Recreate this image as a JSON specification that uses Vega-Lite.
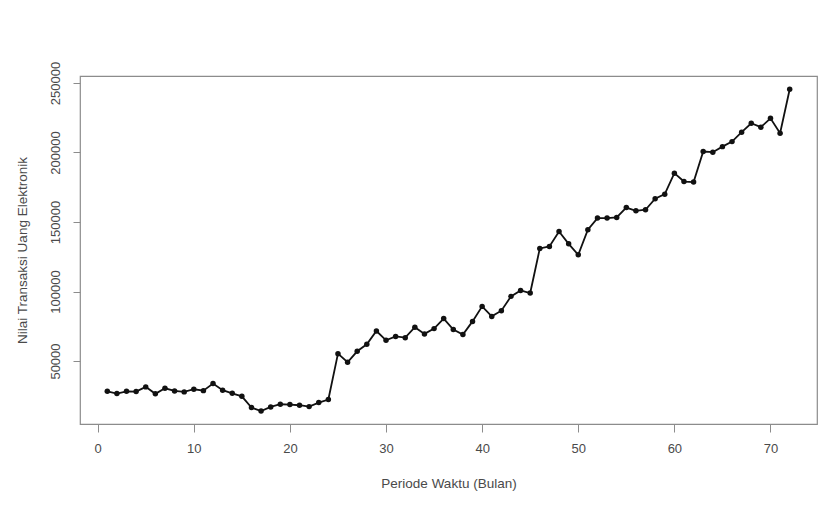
{
  "$schema": "https://vega.github.io/schema/vega-lite/v6.json",
  "width": 737,
  "height": 348,
  "autosize": {"type": "none"},
  "padding": {"left": 80, "top": 76, "right": 23, "bottom": 82},
  "background": "white",
  "config": {
    "view": {"stroke": "#8c8c8c", "strokeWidth": 1.2},
    "font": "Liberation Sans"
  },
  "data": {
    "values": [
      {"periode": 1, "nilai": 28200}, {"periode": 2, "nilai": 26600}, {"periode": 3, "nilai": 28200},
      {"periode": 4, "nilai": 28000}, {"periode": 5, "nilai": 31400}, {"periode": 6, "nilai": 26400},
      {"periode": 7, "nilai": 30400}, {"periode": 8, "nilai": 28500}, {"periode": 9, "nilai": 27800},
      {"periode": 10, "nilai": 29700}, {"periode": 11, "nilai": 28700}, {"periode": 12, "nilai": 33800},
      {"periode": 13, "nilai": 29000}, {"periode": 14, "nilai": 26800}, {"periode": 15, "nilai": 24600},
      {"periode": 16, "nilai": 16500}, {"periode": 17, "nilai": 14000}, {"periode": 18, "nilai": 17000},
      {"periode": 19, "nilai": 18900}, {"periode": 20, "nilai": 18700}, {"periode": 21, "nilai": 18200},
      {"periode": 22, "nilai": 17200}, {"periode": 23, "nilai": 20100}, {"periode": 24, "nilai": 22300},
      {"periode": 25, "nilai": 55300}, {"periode": 26, "nilai": 49100}, {"periode": 27, "nilai": 57000},
      {"periode": 28, "nilai": 62000}, {"periode": 29, "nilai": 71600}, {"periode": 30, "nilai": 64900},
      {"periode": 31, "nilai": 67700}, {"periode": 32, "nilai": 66800}, {"periode": 33, "nilai": 74300},
      {"periode": 34, "nilai": 69500}, {"periode": 35, "nilai": 73300}, {"periode": 36, "nilai": 80500},
      {"periode": 37, "nilai": 72600}, {"periode": 38, "nilai": 69000}, {"periode": 39, "nilai": 78500},
      {"periode": 40, "nilai": 89300}, {"periode": 41, "nilai": 82100}, {"periode": 42, "nilai": 86200},
      {"periode": 43, "nilai": 96500}, {"periode": 44, "nilai": 100800}, {"periode": 45, "nilai": 98900},
      {"periode": 46, "nilai": 131000}, {"periode": 47, "nilai": 132400}, {"periode": 48, "nilai": 143200},
      {"periode": 49, "nilai": 134300}, {"periode": 50, "nilai": 126400}, {"periode": 51, "nilai": 144400},
      {"periode": 52, "nilai": 152800}, {"periode": 53, "nilai": 152800}, {"periode": 54, "nilai": 153300},
      {"periode": 55, "nilai": 160400}, {"periode": 56, "nilai": 158000}, {"periode": 57, "nilai": 158800},
      {"periode": 58, "nilai": 166700}, {"periode": 59, "nilai": 170000}, {"periode": 60, "nilai": 185100},
      {"periode": 61, "nilai": 179100}, {"periode": 62, "nilai": 178700}, {"periode": 63, "nilai": 200700},
      {"periode": 64, "nilai": 200200}, {"periode": 65, "nilai": 204200}, {"periode": 66, "nilai": 207800},
      {"periode": 67, "nilai": 214600}, {"periode": 68, "nilai": 221000}, {"periode": 69, "nilai": 218200},
      {"periode": 70, "nilai": 224600}, {"periode": 71, "nilai": 213900}, {"periode": 72, "nilai": 245500}
    ]
  },
  "encoding": {
    "x": {
      "field": "periode",
      "type": "quantitative",
      "scale": {"domain": [-1.84, 74.84], "nice": false, "zero": false},
      "axis": {
        "values": [0, 10, 20, 30, 40, 50, 60, 70],
        "grid": false,
        "domain": false,
        "tickSize": 8,
        "tickColor": "#8c8c8c",
        "labelFont": "Liberation Sans",
        "labelFontSize": 13,
        "labelColor": "#4a4a4a",
        "labelPadding": 16,
        "labelBaseline": "middle",
        "labelFlush": false,
        "labelOverlap": false,
        "title": "Periode Waktu (Bulan)",
        "titleFont": "Liberation Sans",
        "titleFontSize": 13.5,
        "titleFontWeight": "normal",
        "titleColor": "#4a4a4a",
        "titleX": 368.5,
        "titleY": 59,
        "titleAlign": "center",
        "titleBaseline": "middle"
      }
    },
    "y": {
      "field": "nilai",
      "type": "quantitative",
      "scale": {"domain": [4700, 255000], "nice": false, "zero": false},
      "axis": {
        "values": [50000, 100000, 150000, 200000, 250000],
        "format": "d",
        "grid": false,
        "domain": false,
        "tickSize": 7,
        "tickColor": "#8c8c8c",
        "labelFont": "Liberation Sans",
        "labelFontSize": 13,
        "labelColor": "#4a4a4a",
        "labelAngle": -90,
        "labelAlign": "center",
        "labelBaseline": "middle",
        "labelPadding": 18,
        "labelFlush": false,
        "labelOverlap": false,
        "title": "Nilai Transaksi Uang Elektronik",
        "titleFont": "Liberation Sans",
        "titleFontSize": 13.5,
        "titleFontWeight": "normal",
        "titleColor": "#4a4a4a",
        "titleAngle": -90,
        "titleX": -58,
        "titleY": 174,
        "titleAlign": "center",
        "titleBaseline": "middle"
      }
    }
  },
  "layer": [
    {"mark": {"type": "line", "color": "#111111", "strokeWidth": 1.8}},
    {"mark": {"type": "point", "filled": true, "shape": "circle", "size": 30, "color": "#111111", "opacity": 1}}
  ]
}
